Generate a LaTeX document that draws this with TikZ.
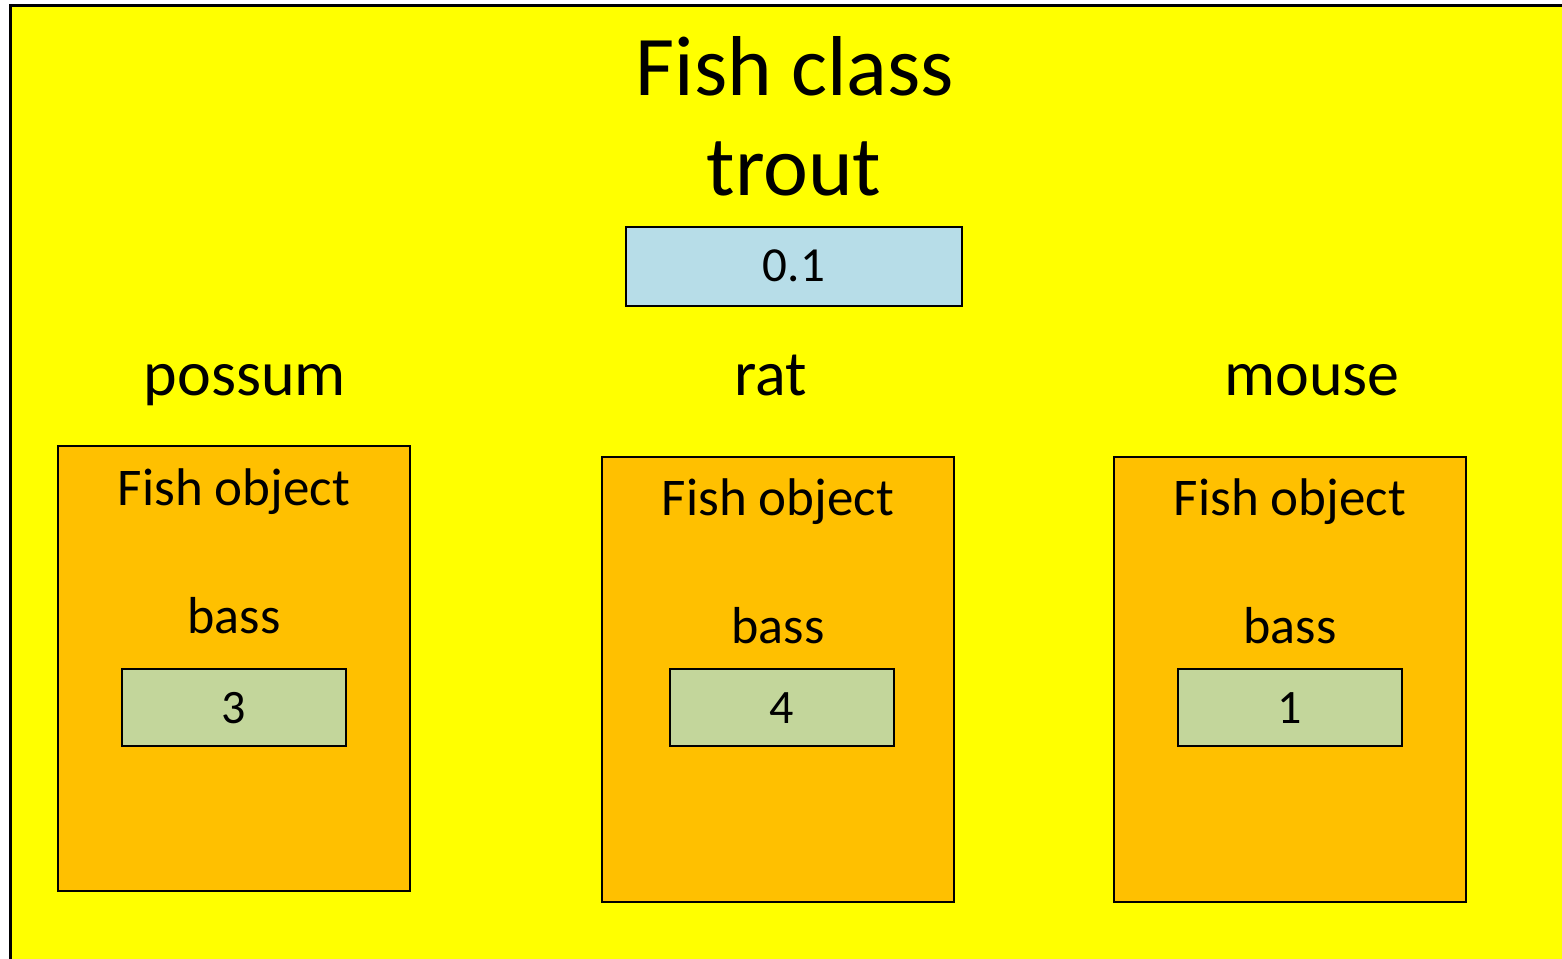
\documentclass[tikz,border=0pt]{standalone}
\usepackage{fontspec}
\setmainfont{Carlito}
\definecolor{bgyellow}{HTML}{FFFF00}
\definecolor{objorange}{HTML}{FFC000}
\definecolor{classblue}{HTML}{B7DDE8}
\definecolor{valgreen}{HTML}{C3D69B}
\begin{document}
\begin{tikzpicture}[x=1pt,y=-1pt,
  lbl/.style={inner sep=0pt,anchor=base,font=#1},
  objbox/.style={draw=black,line width=1.5pt,fill=objorange,minimum width=352pt,minimum height=445pt,inner sep=0pt},
  valbox/.style={draw=black,line width=1.5pt,fill=valgreen,minimum width=224pt,minimum height=77pt,inner sep=0pt},
  clsbox/.style={draw=black,line width=1.5pt,fill=classblue,minimum width=336pt,minimum height=79pt,inner sep=0pt}]
\useasboundingbox (0,0) rectangle (1562,958);
\begin{scope}
\clip (0,0) rectangle (1562,958);
\draw[line width=3pt,fill=bgyellow] (10,6) rectangle (1580,980);
\end{scope}

% class header
\node[lbl={\fontsize{85}{102}\selectfont}] (title) at (795,95) {Fish class};
\node[lbl={\fontsize{85}{102}\selectfont}] (trout) at (794,195) {trout};
\node[clsbox] (troutval) at (794,266.5) {};
\node[lbl={\fontsize{49}{59}\selectfont}] at (794,281) {0.1};

% variable names
\node[lbl={\fontsize{64}{77}\selectfont}] (possum) at (245,395) {possum};
\node[lbl={\fontsize{64}{77}\selectfont}] (rat) at (771,395) {rat};
\node[lbl={\fontsize{64}{77}\selectfont}] (mouse) at (1312,395) {mouse};

% objects
\node[objbox] (obj1) at (234,668.5) {};
\node[objbox] (obj2) at (778,679.5) {};
\node[objbox] (obj3) at (1290,679.5) {};

\node[lbl={\fontsize{53}{64}\selectfont}] (h1) at (234,505) {Fish object};
\node[lbl={\fontsize{53}{64}\selectfont}] (h2) at (778,515) {Fish object};
\node[lbl={\fontsize{53}{64}\selectfont}] (h3) at (1290,515) {Fish object};

\node[lbl={\fontsize{52}{62}\selectfont}] (b1) at (234,633) {bass};
\node[lbl={\fontsize{52}{62}\selectfont}] (b2) at (778,643) {bass};
\node[lbl={\fontsize{52}{62}\selectfont}] (b3) at (1290,643) {bass};

\node[valbox] (v1) at (234,707.5) {};
\node[valbox] (v2) at (782,707.5) {};
\node[valbox] (v3) at (1290,707.5) {};
\node[lbl={\fontsize{48}{58}\selectfont}] at (234,723) {3};
\node[lbl={\fontsize{48}{58}\selectfont}] at (782,723) {4};
\node[lbl={\fontsize{48}{58}\selectfont}] at (1290,723) {1};
\end{tikzpicture}
\end{document}
